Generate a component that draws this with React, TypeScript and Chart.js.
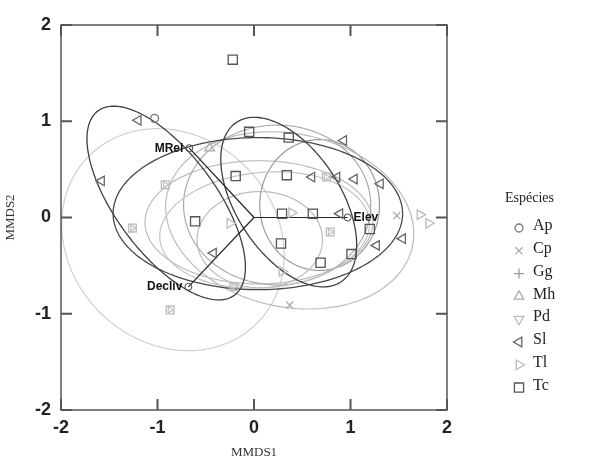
import React, { useEffect, useRef } from "react";
import { Chart, registerables } from "chart.js";
import * as helpers from "chart.js/helpers";

Chart.register(...registerables);

// ---- data ----
const tickValues = [-2, -1, 0, 1, 2];
const tickLabels = ["-2", "-1", "0", "1", "2"];
const xTitle = "MMDS1";
const yTitle = "MMDS2";
const legendTitle = "Espécies";
const species = ["Ap", "Cp", "Gg", "Mh", "Pd", "Sl", "Tl", "Tc"];

const apX = [-1.03];
const apY = [1.03];
const cpX = [1.48, 0.37];
const cpY = [0.02, -0.91];
const ggX: number[] = [];
const ggY: number[] = [];
const mhX = [-0.46];
const mhY = [0.72];
const pdX: number[] = [];
const pdY: number[] = [];
const slX = [-1.2, -1.58, 0.6, 0.86, 1.04, 1.31, 0.89, 1.54, 1.27, -0.42, 0.93];
const slY = [1.01, 0.38, 0.42, 0.42, 0.4, 0.35, 0.04, -0.22, -0.29, -0.37, 0.8];
const tlX = [0.39, 1.72, 1.81, -0.25, 0.29];
const tlY = [0.05, 0.03, -0.06, -0.06, -0.56];
const tcX = [-0.22, -0.05, 0.36, -0.19, 0.34, 0.29, 0.61, 1.2, 0.28, 1.01, 0.69, -0.61];
const tcY = [1.64, 0.89, 0.83, 0.43, 0.44, 0.04, 0.04, -0.12, -0.27, -0.38, -0.47, -0.04];
// overlapping light markers (square + triangle)
const ovX = [-1.26, -0.87, 0.75, 0.79, -0.21, -0.92];
const ovY = [-0.11, -0.96, 0.42, -0.15, -0.72, 0.34];

const vecNames = ["MRel", "Elev", "Decliv"];
const vecX = [-0.67, 0.97, -0.68];
const vecY = [0.72, 0.0, -0.72];

// ellipses: centre, semi-axes, rotation (deg)
const ellCx = [-0.84, 0.05, 0.68, 0.37, 0.24, 0.11, 0.06, -0.91, 0.36, 0.04];
const ellCy = [-0.23, -0.05, 0.13, -0.03, 0.13, -0.13, -0.23, 0.15, 0.16, 0.04];
const ellA = [1.23, 1.18, 0.62, 1.3, 0.97, 1.09, 0.65, 1.19, 0.99, 1.5];
const ellB = [1.07, 0.64, 0.68, 0.9, 0.83, 0.6, 0.5, 0.52, 0.54, 0.79];
const ellRot = [-45, 0, 0, -12, 0, 5, 0, -53.6, -57, 0];
const ellColor = ["#cfcfcf", "#bdbdbd", "#9a9a9a", "#bbbbbb", "#aaaaaa", "#c4c4c4", "#bbbbbb", "#404040", "#404040", "#484848"];

const zip = (xs: number[], ys: number[]) => xs.map((x, i) => ({ x, y: ys[i] }));

const markerStyle: Record<string, { style: string; rot: number; color: string; r: number }> = {
  Ap: { style: "circle", rot: 0, color: "#777777", r: 4 },
  Cp: { style: "crossRot", rot: 0, color: "#aaaaaa", r: 5 },
  Gg: { style: "cross", rot: 0, color: "#999999", r: 5 },
  Mh: { style: "triangle", rot: 0, color: "#aaaaaa", r: 5.5 },
  Pd: { style: "triangle", rot: 180, color: "#bbbbbb", r: 5.5 },
  Sl: { style: "triangle", rot: -90, color: "#666666", r: 5.5 },
  Tl: { style: "triangle", rot: 90, color: "#bbbbbb", r: 5.5 },
  Tc: { style: "rect", rot: 0, color: "#555555", r: 6.5 },
};

const SANS = "'Liberation Sans', Arial, sans-serif";
const SERIF = "'Liberation Serif', 'Times New Roman', serif";

const ellipsePlugin = {
  id: "ellipses",
  beforeDatasetsDraw(chart: any) {
    const { ctx, chartArea, scales } = chart;
    const xs = scales.x, ys = scales.y;
    ctx.save();
    ctx.beginPath();
    ctx.rect(chartArea.left, chartArea.top, chartArea.right - chartArea.left, chartArea.bottom - chartArea.top);
    ctx.clip();
    for (let i = 0; i < ellCx.length; i++) {
      const th = (ellRot[i] * Math.PI) / 180;
      ctx.beginPath();
      for (let k = 0; k <= 200; k++) {
        const t = (2 * Math.PI * k) / 200;
        const dx = ellA[i] * Math.cos(t);
        const dy = ellB[i] * Math.sin(t);
        const px = ellCx[i] + dx * Math.cos(th) - dy * Math.sin(th);
        const py = ellCy[i] + dx * Math.sin(th) + dy * Math.cos(th);
        const X = xs.getPixelForValue(px), Y = ys.getPixelForValue(py);
        if (k === 0) ctx.moveTo(X, Y); else ctx.lineTo(X, Y);
      }
      ctx.closePath();
      ctx.strokeStyle = ellColor[i];
      ctx.lineWidth = i >= 7 ? 1.3 : 1.2;
      ctx.stroke();
    }
    // vectors
    const ox = xs.getPixelForValue(0), oy = ys.getPixelForValue(0);
    ctx.strokeStyle = "#222";
    ctx.lineWidth = 1.2;
    for (let i = 0; i < vecNames.length; i++) {
      const vx = xs.getPixelForValue(vecX[i]), vy = ys.getPixelForValue(vecY[i]);
      ctx.beginPath();
      ctx.moveTo(ox, oy);
      ctx.lineTo(vx, vy);
      ctx.stroke();
    }
    ctx.restore();
  },
  afterDatasetsDraw(chart: any) {
    const { ctx, scales } = chart;
    const xs = scales.x, ys = scales.y;
    ctx.save();
    for (let i = 0; i < vecNames.length; i++) {
      const vx = xs.getPixelForValue(vecX[i]), vy = ys.getPixelForValue(vecY[i]);
      ctx.beginPath();
      ctx.arc(vx, vy, 3.5, 0, Math.PI * 2);
      ctx.strokeStyle = "#444";
      ctx.lineWidth = 1;
      ctx.stroke();
      ctx.font = `bold 12px ${SANS}`;
      ctx.fillStyle = "#111";
      ctx.textBaseline = "middle";
      if (vecX[i] > 0) {
        ctx.textAlign = "left";
        ctx.fillText(vecNames[i], vx + 6, vy);
      } else {
        ctx.textAlign = "right";
        ctx.fillText(vecNames[i], vx - 6, vy);
      }
    }
    ctx.restore();
  },
  afterDraw(chart: any) {
    const { ctx, chartArea, scales } = chart;
    const xs = scales.x, ys = scales.y;
    const { left, right, top, bottom } = chartArea;
    ctx.save();
    ctx.strokeStyle = "#555";
    ctx.lineWidth = 1.5;
    ctx.strokeRect(left, top, right - left, bottom - top);
    ctx.lineWidth = 2;
    const tl = 11;
    for (const v of tickValues) {
      const X = xs.getPixelForValue(v);
      const Y = ys.getPixelForValue(v);
      ctx.beginPath();
      ctx.moveTo(X, bottom); ctx.lineTo(X, bottom - tl);
      ctx.moveTo(X, top); ctx.lineTo(X, top + tl);
      ctx.moveTo(left, Y); ctx.lineTo(left + tl, Y);
      ctx.moveTo(right, Y); ctx.lineTo(right - tl, Y);
      ctx.stroke();
    }
    // legend
    const lx = 519, ltx = 533;
    ctx.fillStyle = "#222";
    ctx.textBaseline = "middle";
    ctx.textAlign = "left";
    ctx.font = `14px ${SERIF}`;
    ctx.fillText(legendTitle, 505, 198);
    ctx.font = `16px ${SERIF}`;
    species.forEach((s, i) => {
      const y = 226 + i * 22.8;
      const m = markerStyle[s];
      ctx.strokeStyle = m.color;
      ctx.fillStyle = "rgba(0,0,0,0)";
      ctx.lineWidth = 1.3;
      helpers.drawPoint(ctx, { pointStyle: m.style, rotation: m.rot, radius: m.r, borderWidth: 1.3 } as any, lx, y + 2);
      ctx.fillStyle = "#222";
      ctx.fillText(s, ltx, y);
    });
    ctx.restore();
  },
};

function ds(label: string, xs: number[], ys: number[], key: string, extra: any = {}) {
  const m = markerStyle[key];
  return {
    label,
    data: zip(xs, ys),
    pointStyle: m.style,
    rotation: m.rot,
    pointRadius: m.r,
    borderColor: m.color,
    backgroundColor: "rgba(0,0,0,0)",
    borderWidth: 1.3,
    showLine: false,
    ...extra,
  };
}

export default function App() {
  const ref = useRef<HTMLCanvasElement | null>(null);
  useEffect(() => {
    if (!ref.current) return;
    const chart = new Chart(ref.current, {
      type: "scatter",
      data: {
        datasets: [
          ds("ov-sq", ovX, ovY, "Tc", { borderColor: "#bbbbbb", pointRadius: 5.5 }),
          ds("ov-tri", ovX, ovY, "Tl", { borderColor: "#c4c4c4", pointRadius: 3.5 }),
          ds("Ap", apX, apY, "Ap"),
          ds("Cp", cpX, cpY, "Cp"),
          ds("Gg", ggX, ggY, "Gg"),
          ds("Mh", mhX, mhY, "Mh"),
          ds("Pd", pdX, pdY, "Pd"),
          ds("Sl", slX, slY, "Sl"),
          ds("Tl", tlX, tlY, "Tl"),
          ds("Tc", tcX, tcY, "Tc"),
        ],
      },
      options: {
        animation: false,
        responsive: false,
        events: [],
        layout: { padding: { top: 25, right: 147, left: 0, bottom: 0 } },
        plugins: { legend: { display: false }, tooltip: { enabled: false }, title: { display: false } },
        scales: {
          x: {
            type: "linear",
            min: -2,
            max: 2,
            afterBuildTicks: (s: any) => { s.ticks = tickValues.map((v) => ({ value: v })); },
            afterFit: (s: any) => { s.height = 57; },
            grid: { display: false, drawTicks: false },
            border: { display: false },
            ticks: {
              padding: 7,
              color: "#222",
              font: { family: SANS, size: 18, weight: "bold" },
              callback: (v: any) => tickLabels[tickValues.indexOf(Number(v))] ?? "",
            },
            title: { display: true, text: xTitle, color: "#333", font: { family: SERIF, size: 13 }, padding: { top: 4, bottom: 7 } },
          },
          y: {
            type: "linear",
            min: -2,
            max: 2,
            afterBuildTicks: (s: any) => { s.ticks = tickValues.map((v) => ({ value: v })); },
            afterFit: (s: any) => { s.width = 61; },
            grid: { display: false, drawTicks: false },
            border: { display: false },
            ticks: {
              padding: 10,
              color: "#222",
              font: { family: SANS, size: 18, weight: "bold" },
              callback: (v: any) => tickLabels[tickValues.indexOf(Number(v))] ?? "",
            },
            title: { display: true, text: yTitle, color: "#333", font: { family: SERIF, size: 13 }, padding: { top: 3, bottom: 3 } },
          },
        },
      },
      plugins: [ellipsePlugin],
    });
    return () => chart.destroy();
  }, []);
  return (
    <div style={{ position: "fixed", left: 0, top: 0, width: 594, height: 467, background: "#fff" }}>
      <canvas ref={ref} width={594} height={467} style={{ display: "block" }} />
    </div>
  );
}
